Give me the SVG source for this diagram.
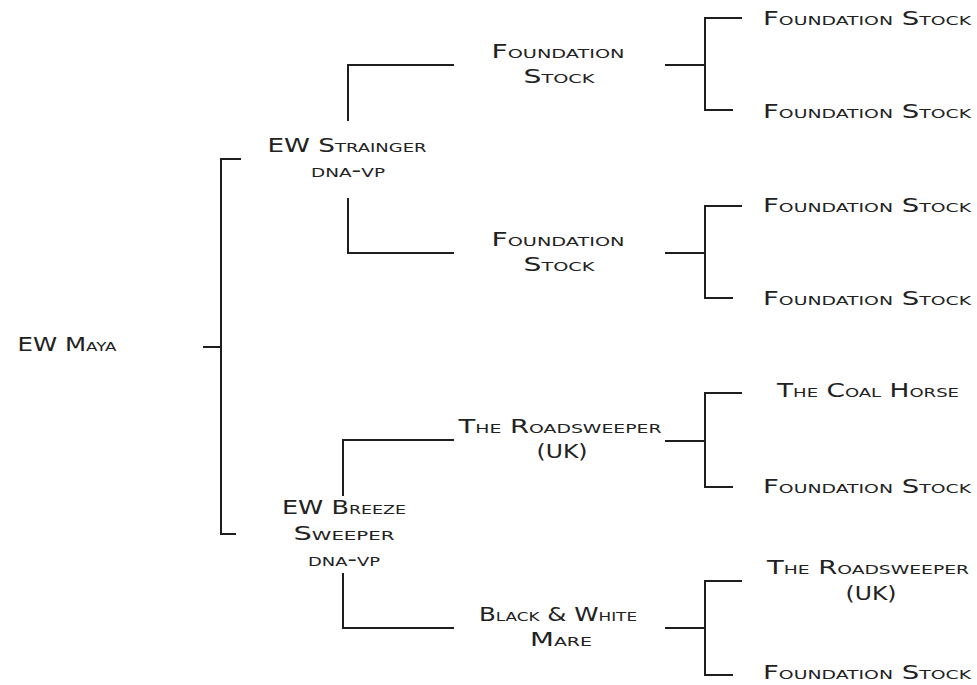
<svg xmlns="http://www.w3.org/2000/svg" width="977" height="685" viewBox="0 0 977 685">
<style>
text{font-family:"DejaVu Sans","Liberation Sans",sans-serif;font-size:19px;font-variant:small-caps;fill:#222;text-anchor:middle}
.c line,.c polyline{stroke:#1e1e1e;stroke-width:2;fill:none}
</style>
<rect width="977" height="685" fill="#fff"/>
<g class="c" id="connectors">
<line x1="203" y1="347" x2="221" y2="347"/>
<polyline points="241,159 221,159 221,534 236,534"/>
<polyline points="454,65 348,65 348,121"/>
<polyline points="348,198 348,253 454,253"/>
<polyline points="454,440 343,440 343,496"/>
<polyline points="343,573 343,628 454,628"/>
<line x1="665" y1="65" x2="705" y2="65"/>
<polyline points="742,18 705,18 705,110 733,110"/>
<line x1="665" y1="253" x2="705" y2="253"/>
<polyline points="742,206 705,206 705,298 733,298"/>
<line x1="665" y1="441" x2="705" y2="441"/>
<polyline points="742,393 705,393 705,487 733,487"/>
<line x1="665" y1="628" x2="705" y2="628"/>
<polyline points="742,581 705,581 705,675 733,675"/>
</g>
<g id="n-maya"><text x="67" y="351" textLength="99" lengthAdjust="spacingAndGlyphs">EW Maya</text></g>
<g id="n-strainger">
<text x="347" y="152" textLength="159" lengthAdjust="spacingAndGlyphs">EW Strainger</text>
<text x="348" y="177" textLength="74" lengthAdjust="spacingAndGlyphs">dna-vp</text>
</g>
<g id="n-breeze">
<text x="344" y="514" textLength="124" lengthAdjust="spacingAndGlyphs">EW Breeze</text>
<text x="344" y="540" textLength="101" lengthAdjust="spacingAndGlyphs">Sweeper</text>
<text x="344" y="566" textLength="72" lengthAdjust="spacingAndGlyphs">dna-vp</text>
</g>
<g id="n-fs1">
<text x="558" y="58" textLength="133" lengthAdjust="spacingAndGlyphs">Foundation</text>
<text x="559" y="83" textLength="71" lengthAdjust="spacingAndGlyphs">Stock</text>
</g>
<g id="n-fs2">
<text x="558" y="246" textLength="133" lengthAdjust="spacingAndGlyphs">Foundation</text>
<text x="559" y="271" textLength="71" lengthAdjust="spacingAndGlyphs">Stock</text>
</g>
<g id="n-road1">
<text x="560" y="433" textLength="203" lengthAdjust="spacingAndGlyphs">The Roadsweeper</text>
<text x="562" y="458" textLength="51" lengthAdjust="spacingAndGlyphs">(UK)</text>
</g>
<g id="n-bwm">
<text x="558" y="621" textLength="158" lengthAdjust="spacingAndGlyphs">Black &amp; White</text>
<text x="561" y="646" textLength="62" lengthAdjust="spacingAndGlyphs">Mare</text>
</g>
<g id="n-g3a"><text x="867" y="25" textLength="208" lengthAdjust="spacingAndGlyphs">Foundation Stock</text></g>
<g id="n-g3b"><text x="867" y="118" textLength="208" lengthAdjust="spacingAndGlyphs">Foundation Stock</text></g>
<g id="n-g3c"><text x="867" y="212" textLength="208" lengthAdjust="spacingAndGlyphs">Foundation Stock</text></g>
<g id="n-g3d"><text x="867" y="305" textLength="208" lengthAdjust="spacingAndGlyphs">Foundation Stock</text></g>
<g id="n-g3e"><text x="868" y="397" textLength="182" lengthAdjust="spacingAndGlyphs">The Coal Horse</text></g>
<g id="n-g3f"><text x="867" y="493" textLength="208" lengthAdjust="spacingAndGlyphs">Foundation Stock</text></g>
<g id="n-g3g">
<text x="868" y="574" textLength="202" lengthAdjust="spacingAndGlyphs">The Roadsweeper</text>
<text x="871" y="600" textLength="51" lengthAdjust="spacingAndGlyphs">(UK)</text>
</g>
<g id="n-g3h"><text x="867" y="679" textLength="208" lengthAdjust="spacingAndGlyphs">Foundation Stock</text></g>
</svg>
